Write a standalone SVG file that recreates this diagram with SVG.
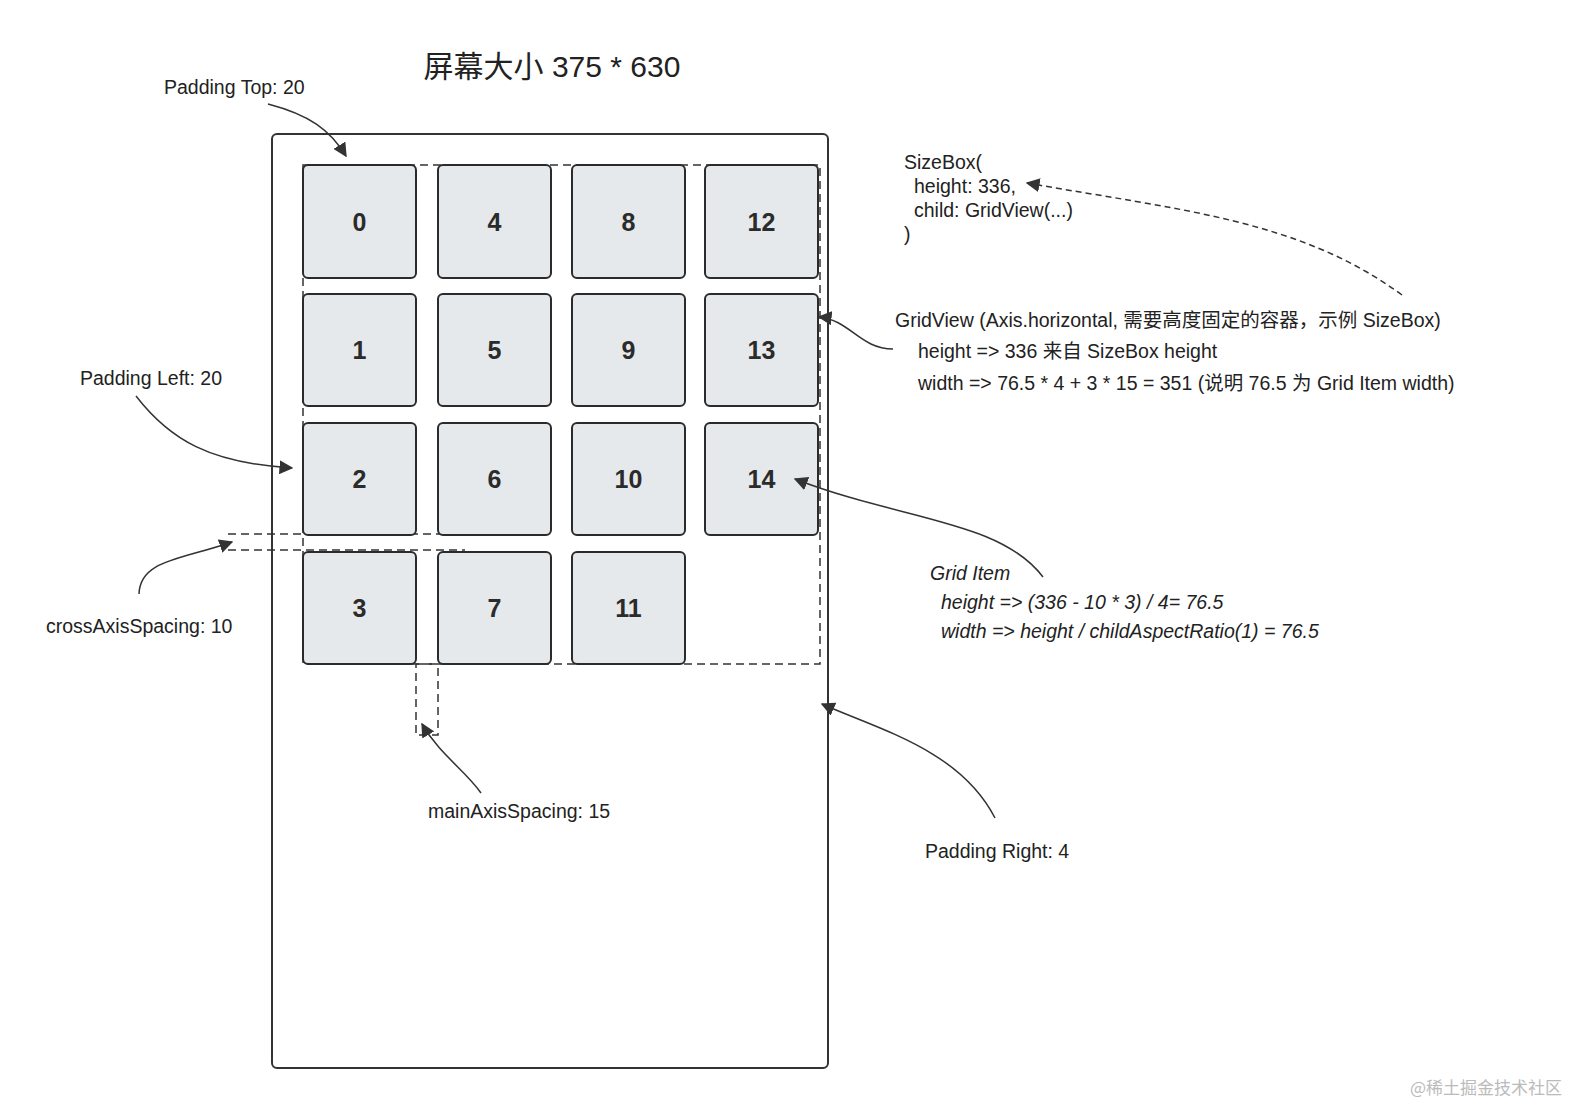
<svg xmlns="http://www.w3.org/2000/svg" width="1586" height="1118" viewBox="0 0 1586 1118">
<style>
.cell{fill:#e6e9ec;stroke:#2b2b2b;stroke-width:2}
.num{font-family:"Liberation Sans",Arial,sans-serif;font-weight:bold;font-size:25px;fill:#2b2b2b;text-anchor:middle}
.lbl{font-family:"Liberation Sans","Noto Sans CJK SC",sans-serif;font-size:19.5px;fill:#222}
.it{font-style:italic}
.dash{fill:none;stroke:#333;stroke-width:1.5;stroke-dasharray:8,5}
.conn{fill:none;stroke:#333;stroke-width:1.5}
</style>
<defs><marker id="ah" viewBox="0 0 10 10" refX="9" refY="5" markerWidth="14" markerHeight="14" markerUnits="userSpaceOnUse" orient="auto"><path d="M0,0L10,5L0,10z" fill="#333"/></marker></defs>
<rect width="1586" height="1118" fill="#fff"/>
<text x="552" y="77" text-anchor="middle" font-family="'Liberation Sans','Noto Sans CJK SC',sans-serif" font-size="30" fill="#222">屏幕大小 375 * 630</text>
<g id="screen"><rect x="272" y="134" width="556" height="934" rx="5" fill="none" stroke="#333" stroke-width="2"/></g>
<g id="grid">
<rect class="dash" x="303" y="165" width="517" height="499"/>
<rect class="dash" x="416" y="664" width="22" height="71" />
<line class="dash" x1="228" y1="534" x2="470" y2="534"/>
<line class="dash" x1="228" y1="550" x2="465" y2="550"/>
</g>
<g id="cell0"><rect class="cell" x="303" y="165" width="113" height="113" rx="5"/><text class="num" x="359.5" y="231">0</text></g>
<g id="cell1"><rect class="cell" x="303" y="294" width="113" height="112" rx="5"/><text class="num" x="359.5" y="359">1</text></g>
<g id="cell2"><rect class="cell" x="303" y="423" width="113" height="112" rx="5"/><text class="num" x="359.5" y="488">2</text></g>
<g id="cell3"><rect class="cell" x="303" y="552" width="113" height="112" rx="5"/><text class="num" x="359.5" y="617">3</text></g>
<g id="cell4"><rect class="cell" x="438" y="165" width="113" height="113" rx="5"/><text class="num" x="494.5" y="231">4</text></g>
<g id="cell5"><rect class="cell" x="438" y="294" width="113" height="112" rx="5"/><text class="num" x="494.5" y="359">5</text></g>
<g id="cell6"><rect class="cell" x="438" y="423" width="113" height="112" rx="5"/><text class="num" x="494.5" y="488">6</text></g>
<g id="cell7"><rect class="cell" x="438" y="552" width="113" height="112" rx="5"/><text class="num" x="494.5" y="617">7</text></g>
<g id="cell8"><rect class="cell" x="572" y="165" width="113" height="113" rx="5"/><text class="num" x="628.5" y="231">8</text></g>
<g id="cell9"><rect class="cell" x="572" y="294" width="113" height="112" rx="5"/><text class="num" x="628.5" y="359">9</text></g>
<g id="cell10"><rect class="cell" x="572" y="423" width="113" height="112" rx="5"/><text class="num" x="628.5" y="488">10</text></g>
<g id="cell11"><rect class="cell" x="572" y="552" width="113" height="112" rx="5"/><text class="num" x="628.5" y="617">11</text></g>
<g id="cell12"><rect class="cell" x="705" y="165" width="113" height="113" rx="5"/><text class="num" x="761.5" y="231">12</text></g>
<g id="cell13"><rect class="cell" x="705" y="294" width="113" height="112" rx="5"/><text class="num" x="761.5" y="359">13</text></g>
<g id="cell14"><rect class="cell" x="705" y="423" width="113" height="112" rx="5"/><text class="num" x="761.5" y="488">14</text></g>
<g id="labels">
<text class="lbl" x="164" y="94">Padding Top: 20</text>
<text class="lbl" x="80" y="385">Padding Left: 20</text>
<text class="lbl" x="46" y="633">crossAxisSpacing: 10</text>
<text class="lbl" x="428" y="818">mainAxisSpacing: 15</text>
<text class="lbl" x="925" y="858">Padding Right: 4</text>
<text class="lbl" x="904" y="169">SizeBox(</text>
<text class="lbl" x="914" y="193">height: 336,</text>
<text class="lbl" x="914" y="217">child: GridView(...)</text>
<text class="lbl" x="904" y="241">)</text>
<text class="lbl" x="895" y="327" font-size="21.5">GridView (Axis.horizontal, 需要高度固定的容器，示例 SizeBox)</text>
<text class="lbl" x="918" y="358" font-size="21.5">height =&gt; 336 来自 SizeBox height</text>
<text class="lbl" x="918" y="390" font-size="21.5">width =&gt; 76.5 * 4 + 3 * 15 = 351 (说明 76.5 为 Grid Item width)</text>
<text class="lbl it" x="930" y="580">Grid Item</text>
<text class="lbl it" x="941" y="609">height =&gt; (336 - 10 * 3) / 4= 76.5</text>
<text class="lbl it" x="941" y="638">width =&gt; height / childAspectRatio(1) = 76.5</text>
<text x="1562" y="1094" text-anchor="end" font-family="'Noto Sans CJK SC',sans-serif" font-size="17" fill="#bbb">@稀土掘金技术社区</text>
</g>
<g id="connectors">
<path class="conn" marker-end="url(#ah)" d="M268,104 C310,115 330,130 346,156"/>
<path class="conn" marker-end="url(#ah)" d="M136,396 C170,440 210,463 292,468"/>
<path class="conn" marker-end="url(#ah)" d="M139,594 C140,560 180,560 232,542"/>
<path class="conn" marker-end="url(#ah)" d="M481,793 C465,770 440,755 422,724"/>
<path class="conn" marker-end="url(#ah)" d="M995,818 C960,750 880,730 822,704"/>
<path class="conn" marker-end="url(#ah)" d="M1043,577 C1000,520 900,520 795,479"/>
<path class="conn" marker-end="url(#ah)" d="M893,349 C860,349 850,320 819,317"/>
<path class="conn" stroke-dasharray="6,4" marker-end="url(#ah)" d="M1402,295 C1300,220 1180,210 1027,183"/>
</g>
</svg>
